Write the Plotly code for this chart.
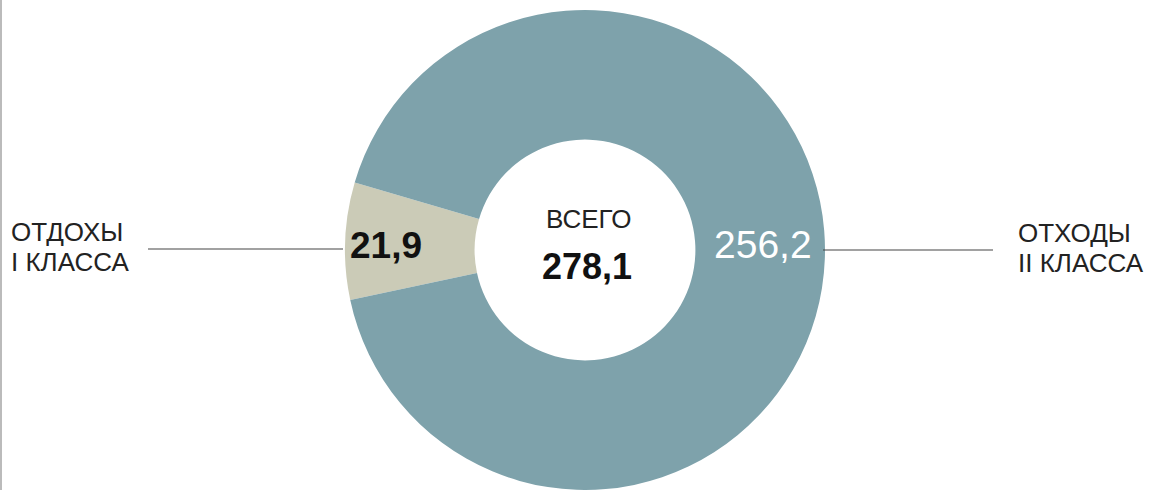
import plotly.graph_objects as go

W, H = 1153, 490

labels = ["ОТДОХЫ I КЛАССА", "ОТХОДЫ II КЛАССА"]
values = [21.9, 256.2]
colors = ["#CBCBB7", "#7EA2AB"]
total_label = "ВСЕГО"
total_value = sum(values)

def fmt(v):
    return f"{v:.1f}".replace(".", ",")

def px(x):
    return x / W

def py(y):
    return 1 - y / H

cx, cy, R = 585, 250, 240

fig = go.Figure(go.Pie(
    labels=labels,
    values=values,
    marker=dict(colors=colors, line=dict(width=0)),
    hole=0.46,
    sort=False,
    direction="clockwise",
    rotation=258,
    textinfo="none",
    hoverinfo="label+value",
    showlegend=False,
    domain=dict(x=[px(cx - R), px(cx + R)], y=[py(cy + R), py(cy - R)]),
))

font = "Liberation Sans, Arial, Helvetica, sans-serif"
ann = []
# center
ann.append(dict(x=px(588), y=py(219), text=total_label, showarrow=False,
                font=dict(family=font, size=26, color="#222222"), xanchor="center", yanchor="middle"))
ann.append(dict(x=px(587), y=py(266), text=f"<b>{fmt(total_value)}</b>", showarrow=False,
                font=dict(family=font, size=36, color="#111111"), xanchor="center", yanchor="middle"))
# slice values
ann.append(dict(x=px(386), y=py(245), text=f"<b>{fmt(values[0])}</b>", showarrow=False,
                font=dict(family=font, size=37, color="#111111"), xanchor="center", yanchor="middle"))
ann.append(dict(x=px(763), y=py(244), text=fmt(values[1]), showarrow=False,
                font=dict(family=font, size=39, color="#FFFFFF"), xanchor="center", yanchor="middle"))
# side labels
left_lines = ["ОТДОХЫ", "I КЛАССА"]
right_lines = ["ОТХОДЫ", "II КЛАССА"]
for i, t in enumerate(left_lines):
    ann.append(dict(x=px(9), y=py(232 + 30 * i), text=t, showarrow=False,
                    font=dict(family=font, size=26, color="#222222"), xanchor="left", yanchor="middle"))
for i, t in enumerate(right_lines):
    ann.append(dict(x=px(1016), y=py(233 + 30 * i), text=t, showarrow=False,
                    font=dict(family=font, size=26, color="#222222"), xanchor="left", yanchor="middle"))

shapes = [
    dict(type="line", xref="paper", yref="paper", x0=px(148), x1=px(343), y0=py(249), y1=py(249),
         line=dict(color="#444444", width=1.2)),
    dict(type="line", xref="paper", yref="paper", x0=px(823), x1=px(993), y0=py(250), y1=py(250),
         line=dict(color="#444444", width=1.2)),
    dict(type="line", xref="paper", yref="paper", x0=px(1), x1=px(1), y0=0, y1=1,
         line=dict(color="#BBBBBB", width=2)),
]

fig.update_layout(
    width=W, height=H,
    margin=dict(l=0, r=0, t=0, b=0),
    paper_bgcolor="white", plot_bgcolor="white",
    annotations=ann, shapes=shapes,
)

fig.write_html("out.html", config={"displayModeBar": False},
               post_script="document.body.style.margin='0px';document.body.style.overflow='hidden';")
